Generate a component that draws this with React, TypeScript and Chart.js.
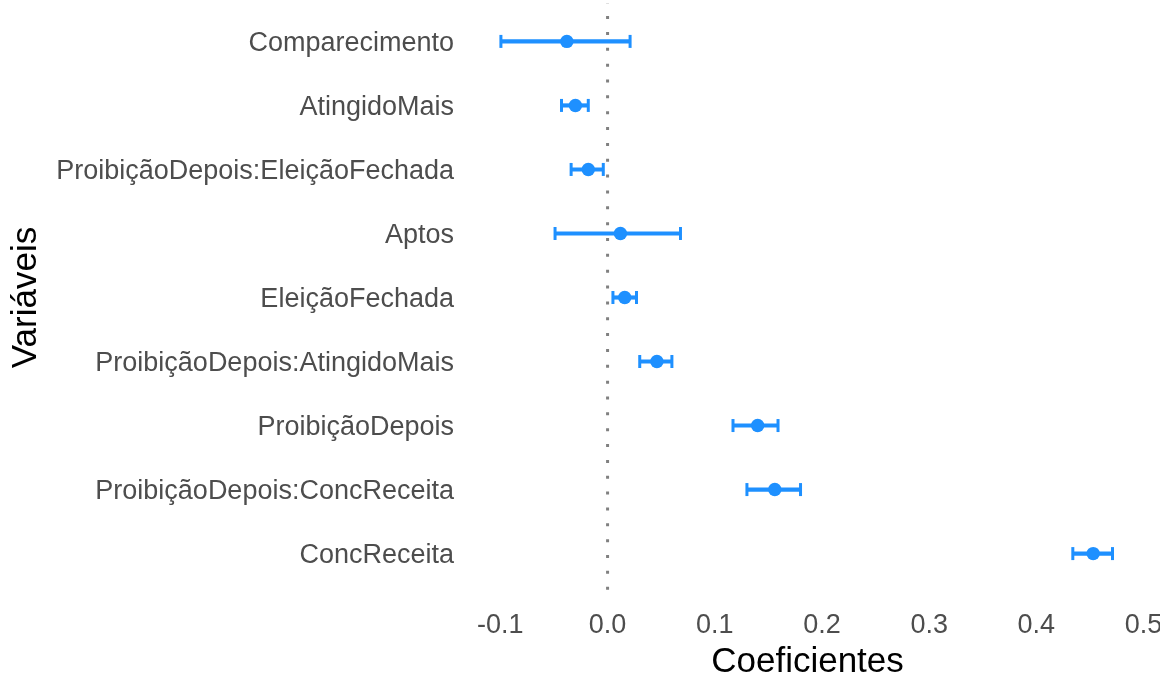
import React, { useEffect, useRef } from "react";
import { Chart, registerables } from "chart.js";

Chart.register(...registerables);

// ---- data ----
const variables = [
  "Comparecimento",
  "AtingidoMais",
  "ProibiçãoDepois:EleiçãoFechada",
  "Aptos",
  "EleiçãoFechada",
  "ProibiçãoDepois:AtingidoMais",
  "ProibiçãoDepois",
  "ProibiçãoDepois:ConcReceita",
  "ConcReceita",
];
const estimates = [-0.038, -0.030, -0.018, 0.012, 0.016, 0.046, 0.140, 0.156, 0.453];
const lowerCI = [-0.0995, -0.043, -0.034, -0.049, 0.005, 0.030, 0.117, 0.130, 0.434];
const upperCI = [0.021, -0.018, -0.004, 0.068, 0.027, 0.060, 0.159, 0.180, 0.471];
const xTickValues = [-0.1, 0.0, 0.1, 0.2, 0.3, 0.4, 0.5];
const xTickLabels = ["-0.1", "0.0", "0.1", "0.2", "0.3", "0.4", "0.5"];
const xLimits = [-0.133, 0.506];
const referenceValue = 0;
const xTitle = "Coeficientes";
const yTitle = "Variáveis";

const BLUE = "#1E90FF";
const FONT = "'Liberation Sans', Arial, Helvetica, sans-serif";

export default function App() {
  const canvasRef = useRef<HTMLCanvasElement | null>(null);

  useEffect(() => {
    const canvas = canvasRef.current;
    if (!canvas) return;
    const yPos = variables.map((_, i) => i + 1);
    const yMin = 0.4;
    const yMax = variables.length + 0.6;

    const chart = new Chart(canvas, {
      type: "scatter",
      data: {
        datasets: [
          {
            type: "scatter",
            label: "estimate",
            data: estimates.map((v, i) => ({ x: v, y: yPos[i] })),
            pointStyle: "circle",
            pointRadius: 6.7,
            pointBackgroundColor: BLUE,
            pointBorderWidth: 0,
            order: 0,
          },
          {
            type: "scatter",
            label: "lower",
            data: lowerCI.map((v, i) => ({ x: v, y: yPos[i] })),
            pointStyle: "line",
            pointRotation: 90,
            pointRadius: 6.5,
            pointBorderColor: BLUE,
            pointBorderWidth: 3,
            order: 1,
          },
          {
            type: "scatter",
            label: "upper",
            data: upperCI.map((v, i) => ({ x: v, y: yPos[i] })),
            pointStyle: "line",
            pointRotation: 90,
            pointRadius: 6.5,
            pointBorderColor: BLUE,
            pointBorderWidth: 3,
            order: 1,
          },
          {
            type: "bar",
            label: "ci",
            indexAxis: "y",
            data: lowerCI.map((v, i) => ({ x: [v, upperCI[i]], y: yPos[i] })) as any,
            backgroundColor: BLUE,
            borderWidth: 0,
            borderSkipped: false,
            barThickness: 3.5,
            grouped: false,
            order: 2,
          } as any,
          {
            type: "line",
            label: "zero",
            data: [
              { x: referenceValue, y: yMax },
              { x: referenceValue, y: yMin },
            ],
            borderColor: "#808080",
            borderWidth: 3,
            borderDash: [3, 12.85],
            borderDashOffset: 13.55,
            borderCapStyle: "butt",
            pointRadius: 0,
            fill: false,
            order: 3,
          } as any,
        ],
      },
      options: {
        responsive: false,
        animation: false,
        devicePixelRatio: 1,
        layout: { autoPadding: false, padding: { top: 3, right: 10, left: 0, bottom: 0 } },
        plugins: { legend: { display: false }, tooltip: { enabled: false } },
        scales: {
          x: {
            type: "linear",
            position: "bottom",
            min: xLimits[0],
            max: xLimits[1],
            grid: { display: false, drawTicks: false },
            border: { display: false },
            afterBuildTicks: (s: any) => {
              s.ticks = xTickValues.map((v) => ({ value: v }));
            },
            afterFit: (s: any) => {
              s.height = 88;
              s.paddingLeft = 0;
              s.paddingRight = 0;
            },
            ticks: {
              autoSkip: false,
              maxRotation: 0,
              padding: 17,
              color: "#4D4D4D",
              font: { family: FONT, size: 27 },
              callback: (_v: any, i: number) => xTickLabels[i],
            },
            title: {
              display: true,
              text: xTitle,
              color: "#000000",
              font: { family: FONT, size: 35, lineHeight: 1 },
              padding: { top: 0, bottom: 0 },
            },
          },
          y: {
            type: "linear",
            position: "left",
            reverse: true,
            offset: false,
            min: yMin,
            max: yMax,
            grid: { display: false, drawTicks: false },
            border: { display: false },
            afterBuildTicks: (s: any) => {
              s.ticks = yPos.map((v) => ({ value: v }));
            },
            afterFit: (s: any) => {
              s.width = 465;
              s.paddingTop = 0;
              s.paddingBottom = 0;
            },
            ticks: {
              autoSkip: false,
              padding: 11,
              labelOffset: 2,
              color: "#4D4D4D",
              font: { family: FONT, size: 27 },
              callback: (_v: any, i: number) => variables[i],
            },
            title: {
              display: true,
              text: yTitle,
              color: "#000000",
              font: { family: FONT, size: 35, lineHeight: 1.2 },
              padding: { top: 5, bottom: 0 },
            },
          },
        },
      } as any,
    });
    return () => chart.destroy();
  }, []);

  return (
    <div style={{ position: "fixed", left: 0, top: 0, width: 1160, height: 680, background: "#ffffff" }}>
      <canvas ref={canvasRef} width={1160} height={680} style={{ display: "block" }} />
    </div>
  );
}
